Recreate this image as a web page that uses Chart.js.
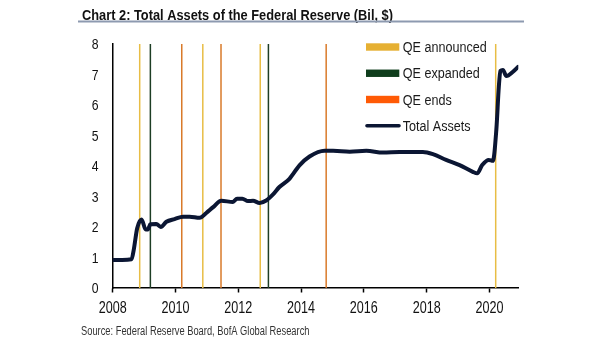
<!DOCTYPE html>
<html><head><meta charset="utf-8">
<script src="https://cdn.jsdelivr.net/npm/chart.js@4/dist/chart.umd.min.js"></script>
<style>
html,body{margin:0;padding:0;background:#fff;}
canvas{position:absolute;left:0;top:0;}
</style></head><body>
<canvas id="c" width="605" height="341"></canvas>
<script>
const years = [2008,2008.30,2008.60,2008.67,2008.78,2008.92,2009.05,2009.12,2009.20,2009.39,2009.53,2009.71,2009.97,2010.24,2010.45,2010.77,2010.98,2011.20,2011.46,2011.83,2011.96,2012.13,2012.31,2012.47,2012.68,2012.89,2013.10,2013.31,2013.63,2013.95,2014.27,2014.75,2015.02,2015.55,2016.08,2016.61,2017.14,2017.88,2018.20,2018.62,2019.05,2019.47,2019.61,2019.77,2019.98,2020.11,2020.22,2020.30,2020.35,2020.43,2020.54,2020.75,2020.91];
const totalAssets = [0.92,0.92,0.94,1.25,1.96,2.25,1.92,1.92,2.09,2.10,2.00,2.17,2.26,2.34,2.34,2.30,2.46,2.65,2.86,2.82,2.93,2.93,2.85,2.86,2.79,2.87,3.06,3.31,3.58,4.02,4.31,4.50,4.50,4.47,4.50,4.44,4.46,4.46,4.39,4.20,4.03,3.81,3.76,4.03,4.20,4.17,5.18,6.60,7.12,7.15,6.95,7.09,7.25];
const qeAnnounced = [2008.86,2010.87,2012.70,2020.20];
const qeExpanded = [2009.20,2012.96];
const qeEnds = [2010.20,2011.45,2014.80];
const xTicks = [2008,2010,2012,2014,2016,2018,2020];
const yTicks = [0,1,2,3,4,5,6,7,8];
const titleText = 'Chart 2: Total Assets of the Federal Reserve (Bil, $)';
const sourceText = 'Source: Federal Reserve Board, BofA Global Research';
const seriesLabels = ['QE announced','QE expanded','QE ends','Total Assets'];

const FONT = "'Liberation Sans',Arial,sans-serif";
function vlines(xs){const d=[];xs.forEach(x=>{d.push({x:x,y:0},{x:x,y:8},{x:x,y:null});});return d;}

// draw text horizontally compressed so that refStr spans refWidth px
function fitScale(ctx,font,refStr,refWidth){ctx.font=font;return refWidth/ctx.measureText(refStr).width;}
function drawText(ctx,text,x,y,font,sx,align,color){
  ctx.save();ctx.font=font;ctx.fillStyle=color;ctx.textBaseline='alphabetic';
  const w=ctx.measureText(text).width*sx;
  let x0=x; if(align==='center')x0=x-w/2; else if(align==='right')x0=x-w;
  ctx.translate(x0,y);ctx.scale(sx,1);ctx.textAlign='left';ctx.fillText(text,0,0);ctx.restore();
}

const legendStyle = [
  {color:'#e6b032', type:'box'},
  {color:'#0f3d1c', type:'box'},
  {color:'#ff5a05', type:'box'},
  {color:'#0b1633', type:'line'}
];
const textPlugin = {
  id:'texts',
  afterDraw(chart){
    const ctx=chart.ctx;
    // title
    const tf='bold 15.5px '+FONT;
    drawText(ctx,titleText,82,19.5,tf,fitScale(ctx,tf,titleText,311),'left','#111');
    ctx.save();ctx.fillStyle='#8d9ab0';ctx.fillRect(78,20.5,446,2);ctx.restore();
    // source
    const sf='12px '+FONT;
    drawText(ctx,sourceText,81,334.5,sf,fitScale(ctx,sf,sourceText,228.5),'left','#333');
    // x tick labels
    const xs=chart.scales.x, ys=chart.scales.y;
    const xf='16.5px '+FONT, xsx=fitScale(ctx,xf,'2008',28);
    xTicks.forEach(v=>drawText(ctx,String(v),xs.getPixelForValue(v),312.8,xf,xsx,'center','#111'));
    const yf='14px '+FONT, ysx=fitScale(ctx,yf,'8',6.8);
    yTicks.forEach(v=>drawText(ctx,String(v),98.5,ys.getPixelForValue(v)+5,yf,ysx,'right','#111'));
    // legend
    const lf='14px '+FONT, lsx=fitScale(ctx,lf,'QE announced',84);
    let y=47;
    seriesLabels.forEach((lab,i)=>{
      const it=legendStyle[i];
      ctx.save();
      if(it.type==='box'){ctx.fillStyle=it.color;ctx.fillRect(366,y-3.7,33.3,7.4);}
      else{ctx.strokeStyle=it.color;ctx.lineWidth=3.6;ctx.lineCap='round';ctx.beginPath();ctx.moveTo(367,y);ctx.lineTo(399,y);ctx.stroke();}
      ctx.restore();
      drawText(ctx,lab,402.7,y+5,lf,lsx,'left','#1a1a1a');
      y+=26.25;
    });
  }
};

new Chart(document.getElementById('c'),{
  type:'line',
  data:{datasets:[
    {label:seriesLabels[0],data:vlines(qeAnnounced),borderColor:'#e8bd45',borderWidth:1.5,pointRadius:0,spanGaps:false,order:3},
    {label:seriesLabels[1],data:vlines(qeExpanded),borderColor:'#1d3d24',borderWidth:1.5,pointRadius:0,spanGaps:false,order:3},
    {label:seriesLabels[2],data:vlines(qeEnds),borderColor:'#d97a2a',borderWidth:1.5,pointRadius:0,spanGaps:false,order:3},
    {label:seriesLabels[3],data:years.map((x,i)=>({x:x,y:totalAssets[i]})),borderColor:'#0b1633',borderWidth:4,pointRadius:0,cubicInterpolationMode:'monotone',borderCapStyle:'round',borderJoinStyle:'round',order:1}
  ]},
  options:{
    responsive:false,animation:false,
    layout:{padding:{left:0,top:44,right:86.7,bottom:0}},
    plugins:{legend:{display:false},tooltip:{enabled:false}},
    scales:{
      x:{type:'linear',min:2008,max:2020.92,
        afterFit(s){s.height=53;},
        afterBuildTicks(s){s.ticks=xTicks.map(v=>({value:v}));},
        grid:{display:true,drawOnChartArea:false,drawTicks:true,tickLength:4.5,tickColor:'#000',tickWidth:1.5},
        border:{display:true,color:'#000',width:1.5},
        ticks:{display:false}},
      y:{min:0,max:8,
        afterFit(s){s.width=112.7;},
        afterBuildTicks(s){s.ticks=yTicks.map(v=>({value:v}));},
        grid:{display:false,drawTicks:false},
        border:{display:true,color:'#000',width:1.5},
        ticks:{display:false}}
    }
  },
  plugins:[textPlugin]
});
</script>
</body></html>
